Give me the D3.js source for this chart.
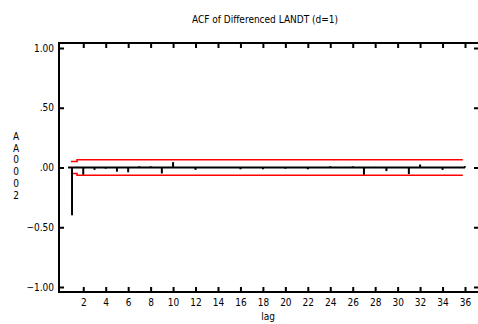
<!DOCTYPE html>
<html>
<head>
<meta charset="utf-8">
<script src="https://cdn.jsdelivr.net/npm/d3@7"></script>
<style>
  body { margin: 0; background: #fff; }
  svg text { font-family: "Liberation Sans Narrow", "DejaVu Sans Condensed", "Liberation Sans", sans-serif; fill: #000; }
</style>
</head>
<body>
<div id="chart"></div>
<script>
// ACF values by lag
const lags = [1, 2, 3, 4, 5, 6, 7, 8, 9, 10, 11, 12, 13, 14, 15, 16, 17, 18,
  19, 20, 21, 22, 23, 24, 25, 26, 27, 28, 29, 30, 31, 32, 33, 34, 35, 36];
const acf = [-0.40, -0.06, -0.02, -0.01, -0.035, -0.04, 0.01, 0.01, -0.05, 0.045, 0.0, -0.02,
  0.0, 0.0, 0.0, -0.015, 0.0, -0.015, 0.0, -0.01, 0.0, -0.015, 0.0, 0.01,
  0.0, 0.01, -0.06, 0.005, -0.03, 0.0, -0.055, 0.025, 0.0, -0.02, 0.0, 0.01];
// confidence limits (±) by lag
const confLimit = [0.05, 0.065, 0.065, 0.065, 0.065, 0.065, 0.065, 0.065, 0.065, 0.065, 0.065, 0.065,
  0.065, 0.065, 0.065, 0.065, 0.065, 0.065, 0.065, 0.065, 0.065, 0.065, 0.065, 0.065,
  0.065, 0.065, 0.065, 0.065, 0.065, 0.065, 0.065, 0.065, 0.065, 0.065, 0.065, 0.065];
const xTicks = [2, 4, 6, 8, 10, 12, 14, 16, 18, 20, 22, 24, 26, 28, 30, 32, 34, 36];
const yTicks = [1, 0.5, 0, -0.5, -1];
const yTickLabels = ['1.00', '.50', '.00', '\u22120.50', '\u22121.00'];
const yLabelChars = ['A', 'A', '0', '0', '0', '2'];

const width = 478, height = 324;
const plotLeft = 59, plotTop = 43, plotBottom = 292, plotRight = 478;

const svg = d3.select('#chart').append('svg')
  .attr('width', width)
  .attr('height', height);

const x = d3.scaleLinear().domain([0, 36]).range([60.8, 465]);
const y = d3.scaleLinear().domain([-1, 1]).range([287, 48]);

// Title
svg.append('text')
  .attr('x', 265).attr('y', 23)
  .attr('text-anchor', 'middle')
  .style('font-size', '10px')
  .text('ACF of Differenced LANDT (d=1)');

// Frame lines (top, left, bottom)
const frame = svg.append('g').attr('stroke', '#000').attr('stroke-width', 2);
frame.append('line').attr('x1', plotLeft).attr('x2', plotRight).attr('y1', plotTop).attr('y2', plotTop);
frame.append('line').attr('x1', plotLeft).attr('x2', plotRight).attr('y1', plotBottom).attr('y2', plotBottom);
frame.append('line').attr('x1', plotLeft).attr('x2', plotLeft).attr('y1', plotTop - 1).attr('y2', plotBottom + 1);

// Bottom axis
const xAxis = svg.append('g')
  .attr('transform', `translate(0,${plotBottom})`)
  .call(d3.axisBottom(x).tickValues(xTicks).tickSize(-5).tickPadding(7));
xAxis.select('.domain').remove();
xAxis.selectAll('line').attr('stroke-width', 2);
xAxis.selectAll('text').style('font-size', '10px').style('font-family', null);

// Top ticks
svg.append('g')
  .attr('transform', `translate(0,${plotTop})`)
  .call(d3.axisTop(x).tickValues(xTicks).tickSize(-5).tickFormat(''))
  .call(g => g.select('.domain').remove())
  .selectAll('line').attr('stroke-width', 2);

// Left axis
const yAxis = svg.append('g')
  .attr('transform', `translate(${plotLeft},0)`)
  .call(d3.axisLeft(y).tickValues(yTicks).tickSize(-5).tickPadding(5)
    .tickFormat((d, i) => yTickLabels[i]));
yAxis.select('.domain').remove();
yAxis.selectAll('line').attr('stroke-width', 2);
yAxis.selectAll('text').style('font-size', '10px').style('font-family', null);

// Right ticks
svg.append('g')
  .attr('transform', `translate(${plotRight},0)`)
  .call(d3.axisRight(y).tickValues(yTicks).tickSize(-4).tickFormat(''))
  .call(g => g.select('.domain').remove())
  .selectAll('line').attr('stroke-width', 2);

// Axis titles
svg.append('text')
  .attr('x', 268).attr('y', 320)
  .attr('text-anchor', 'middle')
  .style('font-size', '10px')
  .text('lag');

svg.append('g').selectAll('text')
  .data(yLabelChars)
  .enter().append('text')
  .attr('x', 16)
  .attr('y', (d, i) => 140 + i * 11.7)
  .attr('text-anchor', 'middle')
  .style('font-size', '10px')
  .text(d => d);

// Zero line
svg.append('line')
  .attr('x1', x(0.65)).attr('x2', x(36))
  .attr('y1', y(0)).attr('y2', y(0))
  .attr('stroke', '#000').attr('stroke-width', 2);

// Confidence bands
const bandPts = lags.map((l, i) => ({ lag: i === 0 ? 0.9 : l - 0.55, v: confLimit[i] }));
bandPts.push({ lag: 35.8, v: confLimit[confLimit.length - 1] });
const bandLine = sign => d3.line()
  .x(d => x(d.lag))
  .y(d => y(sign * d.v))
  .curve(d3.curveStepAfter);
[1, -1].forEach(s => {
  svg.append('path')
    .datum(bandPts)
    .attr('d', bandLine(s))
    .attr('fill', 'none')
    .attr('stroke', '#ff0000')
    .attr('stroke-width', 1.6);
});

// Bars
svg.selectAll('.bar')
  .data(lags)
  .enter().append('line')
  .attr('class', 'bar')
  .attr('x1', d => x(d)).attr('x2', d => x(d))
  .attr('y1', y(0))
  .attr('y2', (d, i) => y(acf[i]))
  .attr('stroke', '#000')
  .attr('stroke-width', 2);
</script>
</body>
</html>
